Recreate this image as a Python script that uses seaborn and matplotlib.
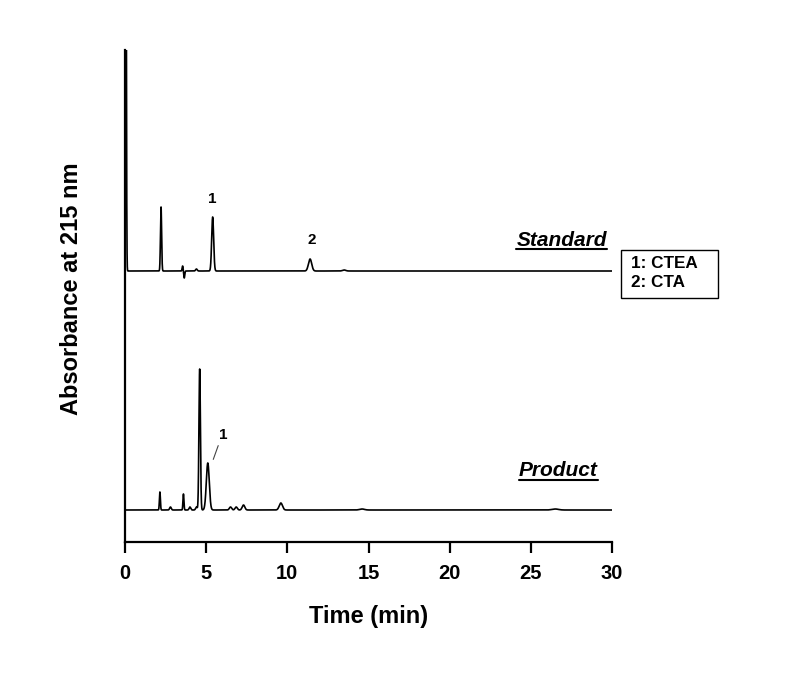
import numpy as np
import pandas as pd
import matplotlib
matplotlib.use("Agg")
import matplotlib.pyplot as plt
import seaborn as sns
from matplotlib.lines import Line2D
from matplotlib.patches import Rectangle

# ---- data ----
# Standard trace: peak retention times (min), heights (a.u.), widths (min)
std_times = [0.05, 2.22, 3.55, 3.65, 4.40, 5.40, 11.40, 13.50]
std_heights = [500, 64, 5, -7, 2, 54, 12, 1]
std_widths = [0.03, 0.035, 0.03, 0.03, 0.05, 0.06, 0.10, 0.10]
std_baseline = 271

# Product trace
prd_times = [2.15, 2.80, 3.60, 4.00, 4.40, 4.60, 5.10, 6.50, 6.85, 7.30, 9.60, 14.60, 26.50]
prd_heights = [18, 3, 16, 3, 3, 141, 47, 3, 3, 5, 7, 1, 1]
prd_widths = [0.03, 0.05, 0.03, 0.05, 0.05, 0.045, 0.09, 0.07, 0.07, 0.08, 0.10, 0.15, 0.20]
prd_baseline = 32

x_ticks = [0, 5, 10, 15, 20, 25, 30]
legend_lines = ["1: CTEA", "2: CTA"]


def trace(times, heights, widths, baseline, t):
    y = np.full_like(t, float(baseline))
    for c, h, w in zip(times, heights, widths):
        y += h * np.exp(-0.5 * ((t - c) / w) ** 2)
    return y


t = np.linspace(0, 30, 12001)
df = pd.concat([
    pd.DataFrame({"Time": t, "Abs": trace(std_times, std_heights, std_widths, std_baseline, t), "Sample": "Standard"}),
    pd.DataFrame({"Time": t, "Abs": trace(prd_times, prd_heights, prd_widths, prd_baseline, t), "Sample": "Product"}),
])

sns.set_theme(style="ticks")
plt.rcParams["font.family"] = ["Liberation Sans", "DejaVu Sans"]
plt.rcParams["font.weight"] = "bold"
plt.rcParams["text.color"] = "black"
plt.rcParams["axes.labelcolor"] = "black"
plt.rcParams["xtick.color"] = "black"
plt.rcParams["ytick.color"] = "black"

fig = plt.figure(figsize=(7.85, 6.91), dpi=100)
ax = fig.add_axes([125 / 785, 149 / 691, 487 / 785, 492 / 691])

sns.lineplot(data=df, x="Time", y="Abs", hue="Sample", units="Sample", estimator=None,
             palette={"Standard": "black", "Product": "black"}, linewidth=1.2,
             legend=False, ax=ax, sort=False)

ax.set_xlim(0, 30)
ax.set_ylim(0, 492)
ax.set_xticks(x_ticks)
ax.set_xticklabels([str(v) for v in x_ticks], fontsize=14.5, fontweight="bold")
ax.set_yticks([])
ax.tick_params(axis="x", direction="out", length=8, width=1.6, pad=8, color="black")
for s in ["top", "right"]:
    ax.spines[s].set_visible(False)
for s in ["left", "bottom"]:
    ax.spines[s].set_linewidth(1.6)
    ax.spines[s].set_color("black")

ax.set_xlabel("Time (min)", fontsize=17, fontweight="bold")
ax.set_ylabel("Absorbance at 215 nm", fontsize=17, fontweight="bold")
ax.xaxis.set_label_coords(0.5, -0.128)
ax.yaxis.set_label_coords(-0.086, 0.514)

# peak labels
ax.text(5.36, 343, "1", fontsize=11, fontweight="bold", ha="center", va="center")
ax.text(11.5, 302, "2", fontsize=11, fontweight="bold", ha="center", va="center")
ax.text(6.04, 107, "1", fontsize=11, fontweight="bold", ha="center", va="center")
ax.annotate("", xy=(5.38, 80), xytext=(5.8, 99),
            arrowprops=dict(arrowstyle="-", color="#444444", lw=0.8))

# trace labels (bold italic, underlined)
fig.canvas.draw()
renderer = fig.canvas.get_renderer()
for label, (lx, ly) in {"Standard": (26.9, 302), "Product": (26.7, 71)}.items():
    txt = ax.text(lx, ly, label, fontsize=15, fontweight="bold", fontstyle="italic",
                  ha="center", va="center")
    bb = txt.get_window_extent(renderer=renderer)
    inv = fig.transFigure.inverted()
    (x0, y0), (x1, _) = inv.transform([(bb.x0, bb.y0), (bb.x1, bb.y0)])
    fig.add_artist(Line2D([x0, x1], [y0 + 0.001, y0 + 0.001], transform=fig.transFigure,
                          color="black", lw=1.5))

# legend box
ax.add_patch(Rectangle((1.0185, 0.496), 0.199, 0.0976, transform=ax.transAxes,
                       facecolor="white", edgecolor="black", lw=1.0, clip_on=False))
ax.text(1.039, 0.547, "\n".join(legend_lines), transform=ax.transAxes, fontsize=12.3,
        fontweight="bold", ha="left", va="center", linespacing=1.3, clip_on=False)

fig.savefig("out.png", dpi=100)
